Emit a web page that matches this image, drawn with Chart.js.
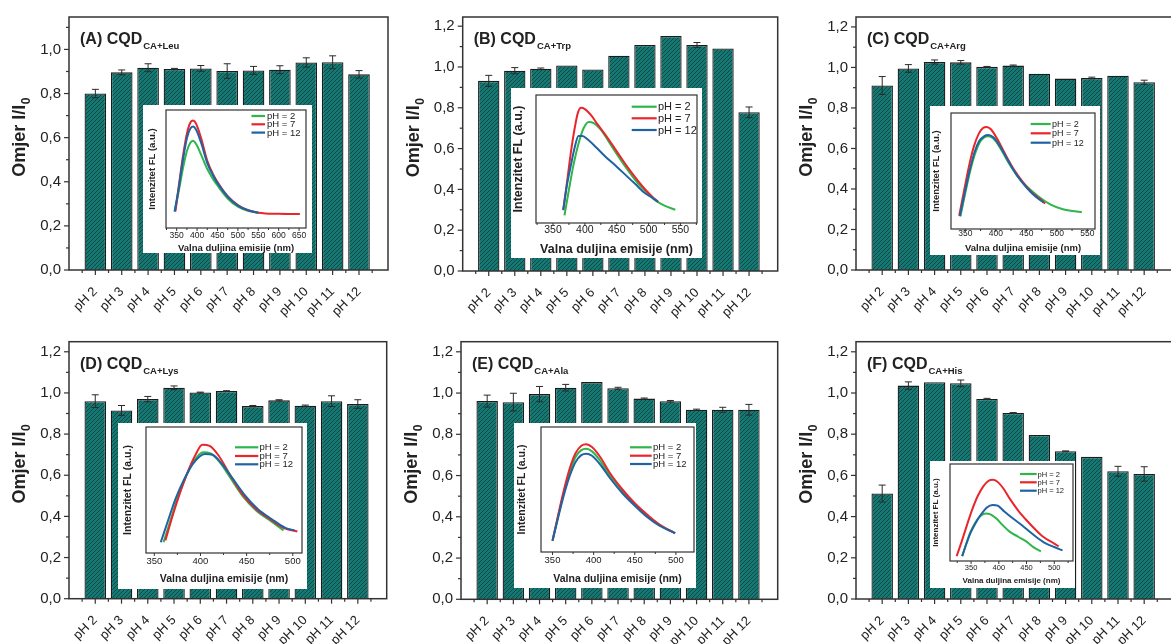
<!DOCTYPE html>
<html><head><meta charset="utf-8">
<script src="https://cdn.jsdelivr.net/npm/chart.js@4/dist/chart.umd.min.js"></script>
<style>
html,body{margin:0;padding:0;width:1171px;height:644px;overflow:hidden;background:#fff;}
canvas{position:absolute;}
</style></head><body>
<script>
// ---------- DATA ----------
const categories = ['pH 2','pH 3','pH 4','pH 5','pH 6','pH 7','pH 8','pH 9','pH 10','pH 11','pH 12'];
const yTickValues = [0, 0.2, 0.4, 0.6, 0.8, 1.0, 1.2];
const wavelengthTicksWide = [350,400,450,500,550,600,650];
const wavelengthTicks550 = [350,400,450,500,550];
const wavelengthTicks500 = [350,400,450,500];
const seriesLabels = ['pH = 2','pH = 7','pH = 12'];

const leuValues = [0.800,0.896,0.917,0.911,0.914,0.902,0.905,0.908,0.941,0.942,0.887];
const leuErrors = [0.019,0.011,0.018,0.003,0.013,0.033,0.018,0.018,0.021,0.029,0.017];
const trpValues = [0.932,0.982,0.991,1.007,0.988,1.055,1.108,1.152,1.108,1.091,0.778];
const trpErrors = [0.027,0.015,0.004,0,0,0,0,0,0.012,0,0.026];
const argValues = [0.911,0.995,1.027,1.025,1.003,1.009,0.969,0.945,0.948,0.959,0.927];
const argErrors = [0.044,0.019,0.010,0.009,0.002,0.003,0,0,0.004,0,0.010];
const lysValues = [0.960,0.915,0.970,1.025,1.002,1.009,0.936,0.964,0.938,0.960,0.946];
const lysErrors = [0.031,0.024,0.013,0.009,0.002,0.002,0.003,0.003,0.003,0.026,0.021];
const alaValues = [0.961,0.956,0.995,1.026,1.053,1.023,0.973,0.960,0.919,0.919,0.919];
const alaErrors = [0.029,0.043,0.037,0.016,0,0.005,0.003,0.004,0.003,0.012,0.026];
const hisValues = [0.512,1.036,1.052,1.047,0.971,0.903,0.796,0.717,0.690,0.620,0.607];
const hisErrors = [0.041,0.018,0,0.016,0.003,0.002,0,0.002,0,0.024,0.035];

// emission spectra (wavelength nm, relative intensity)
const leuPH2 = [[345,0.14],[355,0.31],[365,0.5],[375,0.65],[383,0.72],[390,0.74],[398,0.71],[410,0.62],[425,0.5],[440,0.41],[450,0.36],[475,0.25],[500,0.18],[525,0.145],[550,0.13]];
const leuPH7 = [[347,0.14],[355,0.35],[365,0.6],[375,0.8],[383,0.89],[390,0.91],[398,0.88],[410,0.76],[425,0.57],[440,0.45],[450,0.39],[475,0.27],[500,0.195],[525,0.15],[550,0.13],[600,0.12],[652,0.118]];
const leuPH12 = [[345,0.14],[355,0.34],[365,0.57],[375,0.76],[383,0.84],[390,0.86],[398,0.83],[410,0.72],[425,0.55],[440,0.44],[450,0.38],[475,0.265],[500,0.19],[525,0.15],[550,0.13]];

const trpPH2 = [[368,0.06],[375,0.26],[382,0.45],[390,0.62],[398,0.74],[406,0.79],[414,0.78],[425,0.73],[437,0.64],[450,0.54],[465,0.43],[480,0.33],[495,0.25],[510,0.18],[525,0.135],[542,0.104]];
const trpPH7 = [[366,0.10],[372,0.32],[378,0.55],[384,0.74],[389,0.86],[394,0.90],[400,0.89],[410,0.84],[420,0.77],[435,0.67],[450,0.56],[465,0.45],[480,0.35],[495,0.26],[505,0.21],[515,0.165]];
const trpPH12 = [[366,0.10],[372,0.30],[378,0.45],[384,0.59],[390,0.68],[396,0.68],[405,0.65],[418,0.59],[432,0.52],[450,0.44],[465,0.37],[480,0.30],[495,0.23],[505,0.2],[515,0.165]];

const argPH2 = [[342,0.11],[350,0.31],[358,0.5],[366,0.65],[374,0.75],[381,0.79],[388,0.80],[396,0.78],[406,0.71],[420,0.58],[435,0.46],[450,0.37],[470,0.28],[490,0.21],[510,0.17],[525,0.155],[541,0.145]];
const argPH7 = [[340,0.115],[348,0.33],[356,0.54],[364,0.71],[372,0.82],[379,0.87],[385,0.88],[392,0.86],[402,0.78],[415,0.65],[430,0.51],[445,0.40],[460,0.31],[472,0.26],[481,0.22]];
const argPH12 = [[341,0.11],[349,0.31],[357,0.5],[365,0.66],[373,0.76],[381,0.8],[388,0.81],[396,0.79],[406,0.72],[420,0.59],[435,0.46],[450,0.36],[465,0.28],[478,0.23]];

const lysPH2 = [[360,0.085],[368,0.27],[376,0.45],[384,0.6],[393,0.73],[403,0.8],[411,0.79],[421,0.72],[433,0.59],[446,0.45],[460,0.34],[475,0.26],[490,0.18]];
const lysPH7 = [[362,0.1],[370,0.3],[378,0.48],[386,0.64],[394,0.77],[402,0.86],[410,0.85],[420,0.77],[432,0.62],[445,0.47],[460,0.35],[475,0.27],[490,0.2],[505,0.17]];
const lysPH12 = [[357,0.085],[365,0.26],[373,0.43],[382,0.58],[392,0.71],[405,0.786],[413,0.78],[423,0.71],[435,0.59],[448,0.46],[462,0.35],[477,0.27],[492,0.2],[502,0.18]];

const alaPH2 = [[350,0.09],[357,0.29],[364,0.48],[371,0.64],[378,0.76],[385,0.815],[391,0.826],[398,0.805],[408,0.73],[420,0.61],[435,0.49],[450,0.38],[465,0.29],[480,0.22],[499,0.15]];
const alaPH7 = [[350,0.09],[357,0.3],[364,0.5],[371,0.67],[378,0.79],[385,0.85],[391,0.863],[398,0.84],[408,0.76],[420,0.63],[435,0.5],[450,0.39],[465,0.3],[480,0.22],[499,0.15]];
const alaPH12 = [[350,0.09],[357,0.28],[364,0.46],[371,0.61],[378,0.72],[385,0.775],[391,0.786],[398,0.77],[408,0.70],[420,0.59],[435,0.47],[450,0.37],[465,0.28],[480,0.21],[499,0.15]];

const hisPH2 = [[334,0.05],[341,0.17],[349,0.3],[357,0.39],[366,0.46],[376,0.49],[385,0.48],[395,0.44],[407,0.37],[420,0.3],[435,0.25],[450,0.2],[463,0.14],[476,0.1]];
const hisPH7 = [[324,0.05],[333,0.2],[342,0.36],[352,0.53],[362,0.67],[372,0.77],[381,0.825],[389,0.837],[397,0.82],[408,0.75],[420,0.64],[435,0.52],[450,0.42],[465,0.33],[480,0.25],[500,0.18],[508,0.15]];
const hisPH12 = [[334,0.05],[341,0.17],[349,0.29],[358,0.39],[368,0.48],[378,0.55],[389,0.578],[398,0.57],[410,0.51],[425,0.44],[437,0.39],[452,0.32],[467,0.25],[482,0.19],[497,0.15],[515,0.11]];

// ---------- STYLE / LAYOUT ----------
const FONT = '"Liberation Sans", Arial, Helvetica, sans-serif';
const TEXT = '#222';
const seriesColors = ['#2fb54a','#e8262b','#1f63a3'];
const seriesOrder = [2,1,0];

const panels = [
  {box:[0,0,392,322], area:[69,13,388,270], ymax:1.147, title:'(A) CQD', sub:'CA+Leu', values:leuValues, errors:leuErrors},
  {box:[392,0,390,322], area:[462.7,12.7,777.7,271], ymax:1.245, title:'(B) CQD', sub:'CA+Trp', values:trpValues, errors:trpErrors},
  {box:[782,0,400,322], area:[856,12.7,1173,270], ymax:1.249, title:'(C) CQD', sub:'CA+Arg', values:argValues, errors:argErrors},
  {box:[0,322,392,322], area:[69,341.7,386.7,598.7], ymax:1.249, title:'(D) CQD', sub:'CA+Lys', values:lysValues, errors:lysErrors},
  {box:[392,322,390,322], area:[461,341.7,777.7,599.3], ymax:1.249, title:'(E) CQD', sub:'CA+Ala', values:alaValues, errors:alaErrors},
  {box:[782,322,400,322], area:[856,341.7,1173,599], ymax:1.249, title:'(F) CQD', sub:'CA+His', values:hisValues, errors:hisErrors}
];

const insets = [
  {rect:[143,105,312,253], inner:[166,110,306,228], xmin:323.8, xmax:667, ticks:wavelengthTicksWide, tickSize:8.5, tickCenter:236, titleSize:9.5, xTitleY:250.5, yTitleX:155, leg:{x1:251.5,x2:265,tx:267,rows:[116,124.3,132.6],size:9.5}, curves:[leuPH2,leuPH7,leuPH12]},
  {rect:[511,88,702,258], inner:[536,95,697,223], xmin:323.3, xmax:576, ticks:wavelengthTicks550, tickSize:10.5, tickCenter:230, titleSize:12.5, xTitleY:252.5, yTitleX:522, leg:{x1:631.7,x2:656.7,tx:658,rows:[106.7,118.3,130],size:11}, curves:[trpPH2,trpPH7,trpPH12]},
  {rect:[930,106,1100,255], inner:[951,113,1095,229], xmin:326.6, xmax:562.6, ticks:wavelengthTicks550, tickSize:8.5, tickCenter:233.3, titleSize:9.5, xTitleY:250.5, yTitleX:939, leg:{x1:1030.7,x2:1050.7,tx:1052,rows:[124,133.3,142.7],size:9}, curves:[argPH2,argPH7,argPH12]},
  {rect:[118,423,307,589], inner:[146,427,302,553], xmin:341, xmax:510, ticks:wavelengthTicks500, tickSize:9.5, tickCenter:561, titleSize:10.5, xTitleY:581.7, yTitleX:130.5, leg:{x1:235,x2:258.3,tx:259.5,rows:[447.3,456,464.3],size:9.5}, curves:[lysPH2,lysPH7,lysPH12]},
  {rect:[514,423,696,588], inner:[541,427,694,552], xmin:336, xmax:522, ticks:wavelengthTicks500, tickSize:9.5, tickCenter:560.7, titleSize:10.5, xTitleY:581.7, yTitleX:525, leg:{x1:630,x2:651.7,tx:653,rows:[447.3,455.7,464],size:9.5}, curves:[alaPH2,alaPH7,alaPH12]},
  {rect:[930,461,1075,588], inner:[950,464,1073,561], xmin:312, xmax:533.8, ticks:wavelengthTicks500, tickSize:7.5, tickCenter:568.3, titleSize:8, xTitleY:583.3, yTitleX:938.3, leg:{x1:1020,x2:1036.7,tx:1037.5,rows:[474,482.3,490.7],size:7.5}, curves:[hisPH2,hisPH7,hisPH12]}
];

function makeCanvas(l,t,w,h){
  const cv=document.createElement('canvas');
  cv.width=w; cv.height=h; cv.style.left=l+'px'; cv.style.top=t+'px';
  cv.style.width=w+'px'; cv.style.height=h+'px';
  document.body.appendChild(cv);
  return cv;
}
function hatch(ctx){
  const c=document.createElement('canvas'); c.width=4; c.height=4;
  const g=c.getContext('2d');
  g.fillStyle='#157873'; g.fillRect(0,0,4,4);
  g.strokeStyle='#0b4a47'; g.lineWidth=1;
  g.beginPath(); g.moveTo(-1,5); g.lineTo(5,-1); g.moveTo(-1,1); g.lineTo(1,-1); g.moveTo(3,5); g.lineTo(5,3); g.stroke();
  return ctx.createPattern(c,'repeat');
}
function line(ctx,x1,y1,x2,y2){ctx.beginPath();ctx.moveTo(x1,y1);ctx.lineTo(x2,y2);ctx.stroke();}

function makePanel(p){
  const [bl,bt,bw,bh]=p.box;
  const cv=makeCanvas(bl,bt,bw,bh);
  const ctx=cv.getContext('2d');
  const L=p.area[0]-bl, T=p.area[1]-bt, R=p.area[2]-bl, B=p.area[3]-bt;
  const decor={
    id:'decor'+p.title,
    afterDatasetsDraw(chart){
      const c=chart.ctx, ys=chart.scales.y, meta=chart.getDatasetMeta(0);
      c.save(); c.strokeStyle='#2a2a2a'; c.lineWidth=1;
      meta.data.forEach((bar,i)=>{
        const e=p.errors[i]; if(!e) return;
        const y1=ys.getPixelForValue(p.values[i]+e), y2=ys.getPixelForValue(p.values[i]-e);
        line(c,bar.x,y1,bar.x,y2); line(c,bar.x-3.5,y1,bar.x+3.5,y1); line(c,bar.x-3.5,y2,bar.x+3.5,y2);
      });
      c.restore();
    },
    afterDraw(chart){
      const c=chart.ctx, a=chart.chartArea, xs=chart.scales.x, ys=chart.scales.y;
      c.save();
      c.strokeStyle='#333'; c.lineWidth=1.5;
      c.strokeRect(a.left,a.top,a.right-a.left,a.bottom-a.top);
      c.lineWidth=1.2;
      categories.forEach((_,i)=>{const x=xs.getPixelForValue(i+1); line(c,x,a.bottom,x,a.bottom+5);});
      for(let i=0;i<=categories.length;i++){const x=xs.getPixelForValue(i+0.5); line(c,x,a.bottom,x,a.bottom+3);}
      yTickValues.filter(v=>v<=p.ymax+1e-9).forEach(v=>{
        const y=ys.getPixelForValue(v); line(c,a.left-5,y,a.left,y);
        if(v+0.1<=p.ymax){const ym=ys.getPixelForValue(v+0.1); line(c,a.left-3,ym,a.left,ym);}
      });
      // title
      c.fillStyle=TEXT; c.textAlign='left'; c.textBaseline='alphabetic';
      c.font='bold 16px '+FONT;
      const tx=a.left+11, ty=a.top+27;
      c.fillText(p.title,tx,ty);
      const tw=c.measureText(p.title).width;
      c.font='bold 9.5px '+FONT;
      c.fillText(p.sub,tx+tw+1,ty+5);
      // y title
      c.translate(a.left-44,(a.top+a.bottom)/2-6); c.rotate(-Math.PI/2);
      c.font='bold 18px '+FONT; const w1=c.measureText('Omjer I/I').width;
      c.font='bold 12px '+FONT; const w2=c.measureText('0').width;
      const x0=-(w1+w2)/2;
      c.font='bold 18px '+FONT; c.fillText('Omjer I/I',x0,0);
      c.font='bold 12px '+FONT; c.fillText('0',x0+w1+0.5,5);
      c.restore();
    }
  };
  new Chart(ctx,{
    type:'bar',
    data:{datasets:[{data:p.values.map((v,i)=>({x:i+1,y:v})), backgroundColor:hatch(ctx), borderColor:'#1c1c1c', borderWidth:1.3, barPercentage:0.82, categoryPercentage:1}]},
    options:{
      responsive:false, animation:false, devicePixelRatio:1,
      layout:{padding:{left:0,top:T,right:bw-R,bottom:0}},
      plugins:{legend:{display:false},tooltip:{enabled:false}},
      scales:{
        x:{type:'linear',min:0,max:12.1,offset:false,
          afterBuildTicks:s=>{s.ticks=categories.map((_,i)=>({value:i+1}));},
          afterFit:s=>{s.height=bh-B;},
          ticks:{autoSkip:false,maxRotation:45,minRotation:45,padding:14,color:TEXT,font:{family:FONT,size:13},callback:(v,i)=>categories[i]},
          grid:{display:false,drawTicks:false},border:{display:false}},
        y:{min:0,max:p.ymax,
          afterBuildTicks:s=>{s.ticks=yTickValues.filter(v=>v<=p.ymax+1e-9).map(v=>({value:v}));},
          afterFit:s=>{s.width=L;},
          ticks:{padding:8,color:TEXT,font:{family:FONT,size:15},callback:v=>v.toFixed(1).replace('.',',')},
          grid:{display:false,drawTicks:false},border:{display:false}}
      }
    },
    plugins:[decor]
  });
}

function makeInset(s){
  const [l,t,r,b]=s.rect; const w=r-l, h=b-t;
  const cv=makeCanvas(l,t,w,h);
  const ctx=cv.getContext('2d');
  const iL=s.inner[0]-l, iT=s.inner[1]-t, iR=s.inner[2]-l, iB=s.inner[3]-t;
  const deco={
    id:'inset',
    beforeDraw(chart){const c=chart.ctx; c.save(); c.fillStyle='#fff'; c.fillRect(0,0,w,h); c.restore();},
    afterDraw(chart){
      const c=chart.ctx, a=chart.chartArea, xs=chart.scales.x;
      c.save();
      c.strokeStyle='#333'; c.lineWidth=1.2;
      c.strokeRect(a.left,a.top,a.right-a.left,a.bottom-a.top);
      c.lineWidth=1;
      s.ticks.forEach(v=>{const x=xs.getPixelForValue(v); line(c,x,a.bottom,x,a.bottom+3);
        const xm=xs.getPixelForValue(v+25); if(v+25<s.xmax) line(c,xm,a.bottom,xm,a.bottom+2);});
      const xm0=xs.getPixelForValue(s.ticks[0]-25); if(s.ticks[0]-25>s.xmin) line(c,xm0,a.bottom,xm0,a.bottom+2);
      c.fillStyle=TEXT; c.textBaseline='alphabetic';
      c.font='bold '+s.titleSize+'px '+FONT; c.textAlign='center';
      c.fillText('Valna duljina emisije (nm)',(a.left+a.right)/2,s.xTitleY-t);
      c.save(); c.translate(s.yTitleX-l,(a.top+a.bottom)/2); c.rotate(-Math.PI/2);
      c.fillText('Intenzitet FL (a.u.)',0,0); c.restore();
      // legend
      const g=s.leg; c.textAlign='left'; c.textBaseline='middle'; c.font=g.size+'px '+FONT;
      seriesLabels.forEach((lab,k)=>{
        c.strokeStyle=seriesColors[k]; c.lineWidth=2.2;
        line(c,g.x1-l,g.rows[k]-t,g.x2-l,g.rows[k]-t);
        c.fillStyle=TEXT; c.fillText(lab,g.tx-l,g.rows[k]-t+0.5);
      });
      c.restore();
    }
  };
  new Chart(ctx,{
    type:'line',
    data:{datasets:s.curves.map((cv2,k)=>({label:seriesLabels[k],data:cv2,borderColor:seriesColors[k],borderWidth:2,pointRadius:0,cubicInterpolationMode:'monotone',fill:false,order:seriesOrder[k]}))},
    options:{
      responsive:false, animation:false, devicePixelRatio:1,
      layout:{padding:{left:0,top:iT,right:w-iR,bottom:0}},
      plugins:{legend:{display:false},tooltip:{enabled:false}},
      scales:{
        x:{type:'linear',min:s.xmin,max:s.xmax,
          afterBuildTicks:sc=>{sc.ticks=s.ticks.map(v=>({value:v}));},
          afterFit:sc=>{sc.height=h-iB;},
          ticks:{autoSkip:false,maxRotation:0,minRotation:0,padding:Math.max(0,s.tickCenter-s.inner[3]-s.tickSize*0.6),color:TEXT,font:{family:FONT,size:s.tickSize}},
          grid:{display:false,drawTicks:false},border:{display:false}},
        y:{min:0,max:1,afterFit:sc=>{sc.width=iL;},ticks:{display:false},grid:{display:false,drawTicks:false},border:{display:false}}
      }
    },
    plugins:[deco]
  });
}

panels.forEach(makePanel);
insets.forEach(makeInset);
</script>
</body></html>
